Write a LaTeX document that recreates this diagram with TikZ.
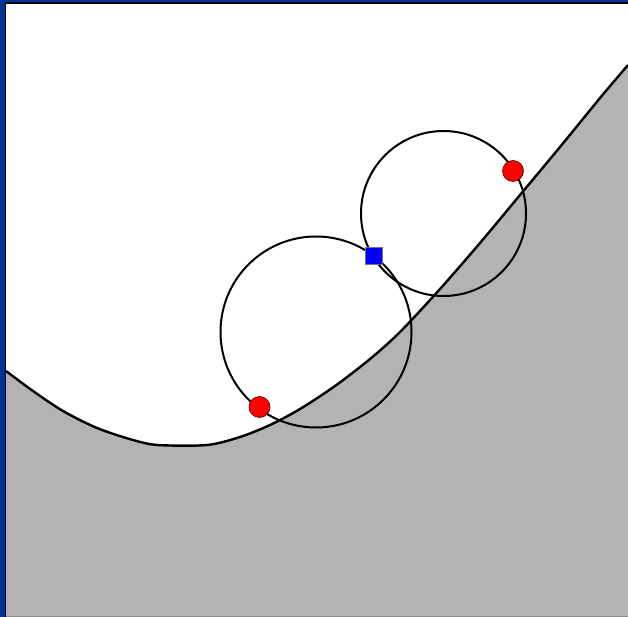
\documentclass[tikz,border=0pt]{standalone}
\usepackage{xcolor}
\usepackage{tikz}
\usetikzlibrary{positioning}
\definecolor{framebl}{HTML}{003399}
\definecolor{terrain}{HTML}{B3B3B3}
\newcommand{\groundpts}{(6,371) (33,391) (63,411) (97,428) (133,440) (158,445) (207,445) (240,437) (270,425) (300,409) (335,386) (370,359) (400,332) (440,289) (480,243) (520,195) (560,147) (600,98) (628,65)}

\begin{document}
\begin{tikzpicture}[x=1pt,y=-1pt,
    contact/.style={circle,fill=red,draw=black!70!red,line width=0.6pt,minimum size=21pt,inner sep=0pt},
    hub/.style={rectangle,fill=blue,draw=black!55,line width=0.8pt,minimum size=17pt,inner sep=0pt},
    wheel/.style={draw=black,line width=2pt}]
    \useasboundingbox (0,0) rectangle (628,617);
    \fill[white] (0,0) rectangle (628,617);

    % ground profile
    \fill[terrain] plot[smooth] coordinates {\groundpts} -- (628,617) -- (6,617) -- cycle;
    \draw[line width=2.4pt,line join=round] plot[smooth] coordinates {\groundpts};

    % wheels
    \coordinate (rear) at (316,332);
    \coordinate (front) at (443.5,213.5);
    \draw[wheel] (rear) circle[radius=95.5pt];
    \draw[wheel] (front) circle[radius=82.5pt];

    \node[contact] (touchrear) at (259.5,407) {};
    \node[contact] (touchfront) at (513,171) {};
    \node[hub] (joint) at (373.5,256) {};

    % window frame
    \fill[framebl] (0,0) rectangle (4.5,617);
    \fill[framebl] (0,0) rectangle (628,2);
    \draw[black,line width=1.5pt] (5.5,2.5) -- (5.5,617);
    \draw[black,line width=1.5pt] (5,2.8) -- (628,2.8);
    \draw[black!45,line width=1pt] (6,616.5) -- (628,616.5);
\end{tikzpicture}
\end{document}
